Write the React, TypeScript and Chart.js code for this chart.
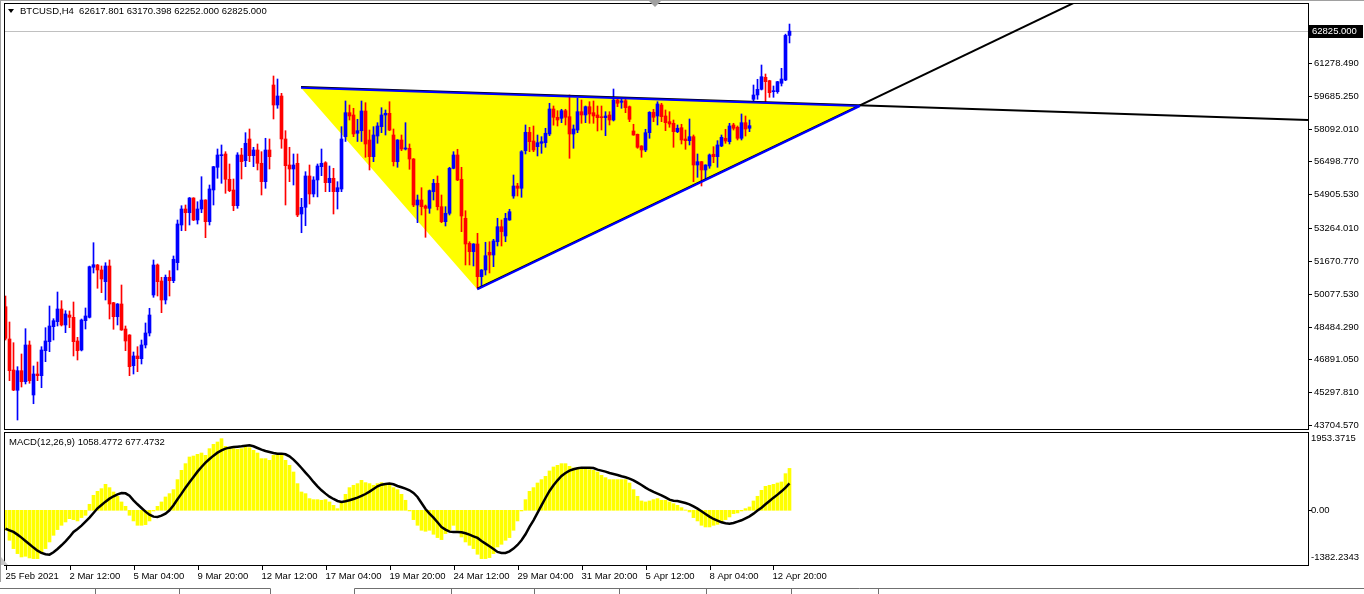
import React, { useEffect, useRef } from "react";
import { Chart, registerables } from "chart.js";

Chart.register(...registerables);

// ---------------- DATA (BTCUSD, H4) ----------------
const opens = [
  49448, 47880, 46375, 45390, 46341, 45806, 47589, 45161, 46180, 46098,
  47312, 47749, 48477, 48720, 49336, 48560, 49045, 48933, 47783, 47346,
  48768, 48933, 51361, 51473, 51230, 50662, 51424, 49642, 48962, 49579,
  48365, 48074, 46584, 47055, 46924, 47589, 48171, 50016, 51473, 50696,
  49773, 50876, 50711, 51584, 53414, 54191, 54011, 54725, 53657, 54191,
  54628, 53575, 55114, 56216, 56779, 56862, 55633, 55114, 54351, 56813,
  56536, 57590, 56779, 57056, 56410, 55517, 57056, 60211, 59240, 59677,
  57590, 56327, 56133, 56410, 53948, 54273, 55794, 54920, 55600, 56245,
  56439, 55468, 55682, 55031, 55162, 57702, 58867, 58755, 57867, 57993,
  58949, 57541, 56731, 57735, 58188, 58755, 58837, 57784, 56488, 57541,
  57104, 57138, 56619, 54385, 54628, 54337, 54225, 55031, 55439, 54303,
  53575, 53982, 56167, 56813, 55633, 53740, 52525, 52118, 52492, 50904,
  51230, 52089, 51958, 52603, 53332, 52880, 53657, 54822, 55308, 55197,
  57022, 57915, 57493, 57217, 57381, 57411, 57833, 59046, 58643, 58594,
  58964, 58672, 57833, 58026, 58915, 58755, 59158, 58867, 58755, 58672,
  58624, 58755, 58512, 59483, 59371, 59449, 59158, 57978, 57818, 57250,
  57056, 57896, 58886, 58707, 59240, 58707, 58430, 58352, 57944, 58139,
  57590, 57507, 57702, 56327, 56488, 56085, 56279, 56847, 56731, 57250,
  57624, 57459, 58270, 58158, 57624, 58381, 58110, 59517, 59726, 60002,
  60585, 60420, 59886, 59886, 60294, 60454, 62617.801,
];
const highs = [
  49967, 48705, 47700, 46535, 47152, 48380, 47783, 46569, 46763, 47506,
  48428, 49482, 48865, 50161, 49739, 49255, 49240, 49676, 47962, 48850,
  49385, 51420, 52555, 51500, 51424, 51584, 51716, 49660, 49600, 50501,
  48511, 48090, 47249, 47506, 47831, 48657, 49370, 51716, 51521, 50876,
  50987, 51196, 51910, 53657, 54351, 54385, 54750, 54740, 54545, 55759,
  54640, 55356, 56260, 57104, 57299, 56973, 56376, 55648, 56925, 57138,
  57896, 58075, 57187, 57347, 56973, 57624, 57590, 60648, 60502, 59808,
  57993, 57187, 56862, 56862, 54710, 56002, 56327, 55759, 56376, 57104,
  56488, 56279, 56167, 55517, 58188, 59435, 59240, 59080, 58546, 59435,
  59352, 58026, 58188, 58381, 59109, 58998, 59400, 58075, 57560, 57784,
  58381, 57347, 56640, 54871, 55225, 54385, 55114, 55633, 55794, 54871,
  54303, 56216, 56973, 57090, 56216, 54108, 52603, 52510, 53011, 51250,
  52575, 52603, 52720, 53740, 53657, 53982, 54177, 55842, 55439, 57022,
  58270, 58158, 58221, 57784, 57702, 58110, 59323, 59192, 58964, 59032,
  59032, 59726, 58270, 59565, 59483, 59192, 59400, 59435, 59192, 59192,
  58915, 58915, 60017, 59594, 59565, 59565, 59192, 58304, 57830, 57265,
  58061, 58915, 59032, 59400, 59323, 58998, 58915, 58512, 58270, 58304,
  58026, 58561, 57784, 56862, 56500, 56340, 56862, 57217, 57508, 57784,
  58061, 58352, 58352, 58221, 58804, 58707, 58512, 60211, 60488, 61182,
  60745, 60440, 60163, 60390, 61022, 62680, 63170.398,
];
const lows = [
  47831, 45855, 45370, 43947, 45549, 45695, 45729, 44738, 45855, 45515,
  46778, 47263, 47831, 48511, 48511, 48186, 48428, 47055, 46860, 47300,
  48365, 48900, 51084, 50342, 50128, 49773, 48851, 48351, 48560, 48300,
  47312, 46098, 46180, 46293, 46666, 47443, 48026, 49904, 49967, 49157,
  49579, 49967, 50614, 51230, 53137, 53137, 53414, 53623, 53463, 54011,
  52798, 53414, 54385, 55682, 55439, 54953, 55031, 54108, 54225, 55648,
  56245, 56488, 56245, 56085, 54871, 55197, 56133, 58561, 59080, 57138,
  54385, 55517, 55356, 53817, 53040, 53380, 54434, 54778, 54778, 55808,
  55031, 55031, 53948, 54191, 55031, 57469, 58512, 57702, 57469, 57469,
  56702, 56085, 56488, 57381, 57896, 57784, 57993, 56279, 56216, 57022,
  57056, 56119, 54303, 53526, 53900, 52817, 53982, 54628, 54143, 53526,
  53366, 53900, 56140, 55565, 53089, 51473, 51473, 51424, 50342, 50453,
  50987, 51084, 51390, 52395, 52395, 52603, 53640, 54710, 54822, 54759,
  56862, 56973, 56973, 56765, 56895, 57187, 57750, 58260, 58221, 58381,
  58270, 56653, 57138, 57896, 58352, 58381, 58352, 58352, 57978, 58026,
  57750, 58270, 58464, 59158, 59080, 58867, 58430, 57770, 57138, 56702,
  56973, 57624, 58430, 58270, 58430, 57993, 58158, 57187, 57896, 57347,
  57090, 57298, 55517, 55730, 55308, 55633, 56167, 56439, 56216, 57217,
  57381, 57347, 58026, 57541, 57541, 57735, 57944, 59400, 59517, 59968,
  59352, 59614, 59614, 59808, 60163, 60420, 62252,
];
const closes = [
  47914, 46341, 45400, 46341, 45806, 47589, 45855, 46180, 46098, 47346,
  47783, 48511, 48768, 49336, 48560, 49094, 48933, 47749, 47312, 48802,
  48997, 51390, 51487, 51230, 50793, 51424, 49579, 48962, 49579, 48317,
  47783, 46535, 47055, 46924, 47589, 48171, 49045, 51473, 50662, 49773,
  50876, 50711, 51750, 53463, 54191, 54011, 54725, 53657, 54191, 54628,
  53575, 55162, 56245, 56813, 56813, 55633, 55080, 54351, 56813, 56488,
  57381, 56779, 57056, 56410, 55517, 57056, 56731, 59240, 59677, 57590,
  56293, 56133, 56327, 53900, 54273, 55794, 54920, 55600, 56279, 56410,
  55468, 55682, 55031, 55225, 57590, 58867, 58707, 57833, 57993, 58949,
  57347, 56731, 57784, 58221, 58755, 58837, 58026, 56488, 57541, 57104,
  57153, 56619, 54385, 54628, 54303, 54225, 55080, 55439, 54303, 53575,
  53982, 56167, 56813, 55600, 53851, 52492, 52118, 52492, 50904, 51230,
  51924, 51958, 52638, 53332, 53089, 53740, 54060, 55308, 55197, 56973,
  57915, 57459, 57056, 57411, 57459, 57867, 59046, 58643, 58512, 58964,
  58643, 57833, 58075, 58915, 58755, 59158, 58804, 58707, 58624, 58624,
  58707, 58512, 59483, 59323, 59435, 59109, 58546, 57784, 57187, 57056,
  57896, 58886, 58643, 59290, 58672, 58381, 58318, 57944, 58110, 57541,
  57507, 57702, 56327, 56488, 56085, 56327, 56813, 56731, 57299, 57672,
  57493, 58221, 58110, 57624, 58381, 58075, 58236, 59726, 60002, 60614,
  60372, 59837, 59934, 60372, 60502, 62617.8, 62825,
];

// MACD(12,26,9): main line (histogram) and signal line
const macdMain = [
  -505, -758, -968, -1095, -1179, -1162, -1204, -1221, -1221, -1095,
  -968, -800, -632, -488, -379, -295, -211, -236, -269, -185,
  -126, 152, 379, 480, 547, 657, 573, 463, 354, 211,
  101, -126, -269, -379, -379, -362, -269, -17, 101, 211,
  337, 421, 522, 775, 1010, 1179, 1347, 1372, 1415, 1448,
  1389, 1558, 1667, 1726, 1810, 1617, 1583, 1558, 1541, 1558,
  1617, 1583, 1516, 1448, 1305, 1305, 1263, 1389, 1415, 1389,
  1263, 1137, 968, 674, 463, 421, 295, 269, 269, 253,
  269, 211, 126, 42, 211, 404, 573, 632, 674, 758,
  699, 674, 632, 674, 699, 674, 657, 573, 522, 404,
  253, -17, -236, -379, -505, -530, -505, -606, -690, -741,
  -589, -505, -379, -505, -674, -800, -884, -968, -1111, -1221,
  -1221, -1196, -1095, -926, -859, -758, -690, -505, -269, -17,
  269, 480, 573, 690, 775, 859, 994, 1095, 1137, 1179,
  1179, 1111, 1069, 1053, 1053, 1053, 1027, 1010, 968, 884,
  825, 775, 775, 775, 775, 775, 690, 522, 354, 236,
  211, 236, 269, 295, 253, 253, 211, 168, 126, 67,
  8, -42, -185, -269, -379, -421, -421, -379, -354, -295,
  -236, -168, -84, -67, -17, 42, 84, 236, 354, 505,
  606, 632, 657, 690, 716, 926, 1058.4772,
];
const macdSignal = [
  -463, -505, -547, -615, -690, -775, -859, -943, -1019, -1078,
  -1112, -1120, -1061, -977, -884, -783, -674, -547, -471, -387,
  -286, -185, -67, 51, 135, 219, 295, 354, 404, 438,
  429, 370, 253, 152, 59, -34, -110, -160, -168, -135,
  -84, 0, 126, 278, 421, 573, 707, 842, 977, 1095,
  1204, 1296, 1381, 1457, 1516, 1558, 1583, 1600, 1608, 1617,
  1633, 1642, 1617, 1575, 1533, 1499, 1474, 1448, 1432, 1432,
  1415, 1364, 1280, 1179, 1069, 951, 842, 716, 606, 505,
  421, 345, 286, 236, 211, 227, 253, 286, 320, 362,
  412, 471, 539, 606, 648, 665, 674, 657, 615, 581,
  547, 505, 438, 337, 185, 34, -84, -185, -303, -421,
  -488, -539, -547, -547, -556, -581, -615, -657, -699, -775,
  -842, -909, -977, -1053, -1078, -1078, -1036, -968, -876, -758,
  -606, -421, -253, -67, 126, 311, 488, 632, 758, 867,
  943, 1002, 1036, 1061, 1078, 1078, 1078, 1069, 1027, 1002,
  977, 943, 918, 893, 859, 834, 800, 758, 699, 640,
  573, 514, 463, 421, 379, 328, 269, 244, 236, 210,
  185, 152, 101, 42, -25, -93, -160, -219, -261, -303,
  -328, -337, -320, -286, -253, -202, -152, -84, -8, 67,
  152, 236, 320, 396, 480, 573, 677.4732,
];

const priceTicks = [61278.49, 59685.25, 58092.01, 56498.77, 54905.53, 53264.01, 51670.77, 50077.53, 48484.29, 46891.05, 45297.81, 43704.57];
const priceTickLabels = ["61278.490", "59685.250", "58092.010", "56498.770", "54905.530", "53264.010", "51670.770", "50077.530", "48484.290", "46891.050", "45297.810", "43704.570"];
const macdTickValues = [1953.3715, 0, -1382.2343];
const macdTickLabels = ["1953.3715", "0.00", "-1382.2343"];
const timeTickIndex = [0, 16, 32, 48, 64, 80, 96, 112, 128, 144, 160, 176, 192];
const timeTickLabels = ["25 Feb 2021", "2 Mar 12:00", "5 Mar 04:00", "9 Mar 20:00", "12 Mar 12:00", "17 Mar 04:00", "19 Mar 20:00", "24 Mar 12:00", "29 Mar 04:00", "31 Mar 20:00", "5 Apr 12:00", "8 Apr 04:00", "12 Apr 20:00"];

// drawn objects: [bar index, price]
const trianglePoints = [[73.875, 60080], [213.6, 59192], [117.95, 50293]];
const resistanceLine = [[73.875, 60080], [213.6, 59192]];
const supportLine = [[117.95, 50293], [213.6, 59192]];
const lastPrice = 62825;
const lastPriceLabel = "62825.000";
const titleText = "BTCUSD,H4  62617.801 63170.398 62252.000 62825.000";
const macdTitle = "MACD(12,26,9) 1058.4772 677.4732";

// ---------------- LAYOUT ----------------
const W = 1364;
const MAIN_H = 431;
const SUB_TOP = 431;
const SUB_H = 163;
const X_MIN = -0.375;
const X_MAX = 325.625;
const PRICE_MIN = 43510;
const PRICE_MAX = 64192;
const FONT = '9.5px "Liberation Sans", Arial, sans-serif';

const idx = closes.map((_, i) => i);
const candleColor = (i: number) => (closes[i] > opens[i] ? "#0000ff" : "#ff0000");

function rayEnd(line: number[][], xEnd: number) {
  const [[i1, p1], [i2, p2]] = line;
  const k = (p2 - p1) / (i2 - i1);
  return [xEnd, p1 + k * (xEnd - i1)];
}

const mainPlugin = {
  id: "mainDecor",
  beforeDatasetsDraw(chart: any) {
    const { ctx, chartArea: a, scales } = chart;
    const x = scales.x, y = scales.y;
    ctx.save();
    ctx.beginPath();
    ctx.rect(a.left, a.top, a.right - a.left, a.bottom - a.top);
    ctx.clip();
    ctx.fillStyle = "#ffff00";
    ctx.beginPath();
    trianglePoints.forEach(([i, p], k) => {
      const px = x.getPixelForValue(i), py = y.getPixelForValue(p);
      if (k === 0) ctx.moveTo(px, py); else ctx.lineTo(px, py);
    });
    ctx.closePath();
    ctx.fill();
    const by = Math.round(y.getPixelForValue(lastPrice)) + 0.5;
    ctx.strokeStyle = "#c0c0c0";
    ctx.lineWidth = 1;
    ctx.beginPath();
    ctx.moveTo(a.left, by);
    ctx.lineTo(a.right, by);
    ctx.stroke();
    ctx.restore();
  },
  afterDatasetsDraw(chart: any) {
    const { ctx, chartArea: a, scales } = chart;
    const x = scales.x, y = scales.y;
    ctx.save();
    ctx.beginPath();
    ctx.rect(a.left, a.top, a.right - a.left, a.bottom - a.top);
    ctx.clip();
    const seg = (p: number[], q: number[], color: string, w: number, dy = 0) => {
      ctx.strokeStyle = color;
      ctx.lineWidth = w;
      ctx.beginPath();
      ctx.moveTo(x.getPixelForValue(p[0]), y.getPixelForValue(p[1]) + dy);
      ctx.lineTo(x.getPixelForValue(q[0]), y.getPixelForValue(q[1]) + dy);
      ctx.stroke();
    };
    seg(resistanceLine[0], rayEnd(resistanceLine, X_MAX), "#000000", 2, -0.6);
    seg(supportLine[0], rayEnd(supportLine, X_MAX), "#000000", 2, -0.6);
    seg(resistanceLine[0], resistanceLine[1], "#0000ff", 2);
    seg(supportLine[0], supportLine[1], "#0000ff", 2);
    ctx.restore();
  },
  afterDraw(chart: any) {
    const { ctx, chartArea: a, scales } = chart;
    const y = scales.y;
    ctx.save();
    ctx.fillStyle = "#a0a0a0";
    ctx.fillRect(0, 0, W, 1);
    ctx.fillRect(0, 0, 1, MAIN_H);
    ctx.strokeStyle = "#000000";
    ctx.lineWidth = 1;
    ctx.strokeRect(a.left + 0.5, a.top + 0.5, a.right - a.left, a.bottom - a.top);
    ctx.font = FONT;
    ctx.textBaseline = "middle";
    ctx.textAlign = "left";
    ctx.fillStyle = "#000000";
    priceTicks.forEach((v, k) => {
      const py = Math.round(y.getPixelForValue(v)) + 0.5;
      ctx.beginPath();
      ctx.moveTo(a.right, py);
      ctx.lineTo(a.right + 4, py);
      ctx.stroke();
      ctx.fillText(priceTickLabels[k], a.right + 6, py);
    });
    const ly = Math.round(y.getPixelForValue(lastPrice));
    ctx.fillStyle = "#000000";
    ctx.fillRect(a.right + 1, ly - 6, 54, 13);
    ctx.fillStyle = "#ffffff";
    ctx.fillText(lastPriceLabel, a.right + 4, ly + 0.5);
    ctx.fillStyle = "#000000";
    ctx.beginPath();
    ctx.moveTo(8, 9);
    ctx.lineTo(14, 9);
    ctx.lineTo(11, 13);
    ctx.closePath();
    ctx.fill();
    ctx.fillText(titleText, 20, 11.5);
    ctx.fillStyle = "#a0a0a0";
    ctx.beginPath();
    ctx.moveTo(649, 1);
    ctx.lineTo(661, 1);
    ctx.lineTo(655, 7);
    ctx.closePath();
    ctx.fill();
    ctx.restore();
  },
};

const subPlugin = {
  id: "subDecor",
  afterDraw(chart: any) {
    const { ctx, chartArea: a, scales } = chart;
    const x = scales.x, y = scales.y;
    ctx.save();
    ctx.fillStyle = "#a0a0a0";
    ctx.fillRect(0, 0, 1, SUB_H - 12);
    ctx.strokeStyle = "#000000";
    ctx.lineWidth = 1;
    ctx.strokeRect(a.left + 0.5, a.top - 0.5, a.right - a.left, a.bottom - a.top + 1);
    ctx.font = FONT;
    ctx.textBaseline = "middle";
    ctx.textAlign = "left";
    ctx.fillStyle = "#000000";
    macdTickValues.forEach((v, k) => {
      const raw = y.getPixelForValue(v);
      const py = Math.min(Math.max(raw, a.top + 5), a.bottom - 8);
      if (v === 0) {
        ctx.beginPath();
        ctx.moveTo(a.right, Math.round(raw) + 0.5);
        ctx.lineTo(a.right + 4, Math.round(raw) + 0.5);
        ctx.stroke();
      }
      ctx.fillText(macdTickLabels[k], a.right + 3, py);
    });
    ctx.fillText(macdTitle, 9, a.top + 9);
    ctx.fillStyle = "#c8c8c8";
    ctx.beginPath();
    ctx.moveTo(1, a.bottom - 8);
    ctx.lineTo(1, a.bottom);
    ctx.lineTo(8, a.bottom);
    ctx.closePath();
    ctx.fill();
    ctx.fillStyle = "#000000";
    timeTickIndex.forEach((i, k) => {
      const px = Math.round(x.getPixelForValue(i)) + 0.5;
      ctx.beginPath();
      ctx.moveTo(px, a.bottom + 1);
      ctx.lineTo(px, a.bottom + 5);
      ctx.stroke();
      ctx.fillText(timeTickLabels[k], px - 1, a.bottom + 11);
    });
    ctx.strokeStyle = "#707070";
    const by = SUB_H - 5.5;
    ctx.beginPath();
    ctx.moveTo(0, by); ctx.lineTo(270.5, by); ctx.lineTo(270.5, SUB_H);
    ctx.moveTo(354.5, SUB_H); ctx.lineTo(354.5, by); ctx.lineTo(W, by);
    [95, 179, 451, 534, 619, 706, 791, 878].forEach((tx) => {
      ctx.moveTo(tx + 0.5, by); ctx.lineTo(tx + 0.5, SUB_H);
    });
    ctx.stroke();
    ctx.restore();
  },
};

export default function App() {
  const mainRef = useRef<HTMLCanvasElement>(null);
  const subRef = useRef<HTMLCanvasElement>(null);

  useEffect(() => {
    const common = {
      responsive: false,
      animation: false as const,
      devicePixelRatio: 1,
      events: [] as any[],
      plugins: { legend: { display: false }, tooltip: { enabled: false } },
    };
    const main = new Chart(mainRef.current as HTMLCanvasElement, {
      type: "bar",
      data: {
        datasets: [
          {
            label: "wick",
            data: idx.map((i) => ({ x: i, y: [lows[i], highs[i]] })) as any,
            backgroundColor: idx.map(candleColor),
            barThickness: 1,
            grouped: false,
            borderWidth: 0,
            order: 2,
          },
          {
            label: "body",
            data: idx.map((i) => ({ x: i, y: [opens[i], closes[i]] })) as any,
            backgroundColor: idx.map(candleColor),
            barThickness: 3,
            minBarLength: 1,
            grouped: false,
            borderWidth: 0,
            order: 1,
          },
        ],
      },
      options: {
        ...common,
        layout: { padding: { left: 4, right: 56, top: 3, bottom: 2 } },
        scales: {
          x: { type: "linear", min: X_MIN, max: X_MAX, display: false, offset: false },
          y: { type: "linear", min: PRICE_MIN, max: PRICE_MAX, display: false, beginAtZero: false },
        },
      } as any,
      plugins: [mainPlugin],
    });

    const sub = new Chart(subRef.current as HTMLCanvasElement, {
      type: "bar",
      data: {
        datasets: [
          {
            type: "line",
            label: "signal",
            data: idx.map((i) => ({ x: i, y: macdSignal[i] })) as any,
            borderColor: "#000000",
            borderWidth: 2.5,
            pointRadius: 0,
            tension: 0,
            order: 1,
          } as any,
          {
            type: "bar",
            label: "macd",
            data: idx.map((i) => ({ x: i, y: macdMain[i] })) as any,
            backgroundColor: "#ffff00",
            barThickness: 3,
            borderWidth: 0,
            order: 2,
          },
        ],
      },
      options: {
        ...common,
        layout: { padding: { left: 4, right: 56, top: 2, bottom: 29 } },
        scales: {
          x: { type: "linear", min: X_MIN, max: X_MAX, display: false, offset: false },
          y: { type: "linear", min: macdTickValues[2], max: macdTickValues[0], display: false, beginAtZero: false },
        },
      } as any,
      plugins: [subPlugin],
    });

    return () => {
      main.destroy();
      sub.destroy();
    };
  }, []);

  return (
    <div style={{ position: "absolute", left: 0, top: 0, width: W, height: 594, background: "#ffffff", overflow: "hidden" }}>
      <canvas ref={mainRef} width={W} height={MAIN_H} style={{ position: "absolute", left: 0, top: 0, width: W, height: MAIN_H }} />
      <canvas ref={subRef} width={W} height={SUB_H} style={{ position: "absolute", left: 0, top: SUB_TOP, width: W, height: SUB_H }} />
    </div>
  );
}
